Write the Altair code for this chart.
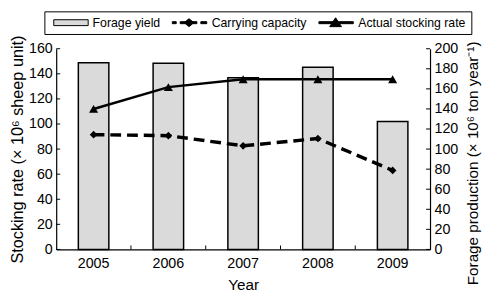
import altair as alt
import pandas as pd

# ---- data ----
years = ["2005", "2006", "2007", "2008", "2009"]
forage_yield = [186, 185.5, 171, 181.5, 127.5]          # right axis (x10^6 ton/yr)
carrying_capacity = [91.5, 90.7, 82.6, 88.4, 63]         # left axis (x10^6 sheep unit)
actual_stocking = [112, 129.4, 135.7, 135.7, 135.7]      # left axis
left_ticks = [0, 20, 40, 60, 80, 100, 120, 140, 160]
right_ticks = [0, 20, 40, 60, 80, 100, 120, 140, 160, 180, 200]
series_names = ["Forage yield", "Carrying capacity", "Actual stocking rate"]

FONT = "Liberation Sans"
W, H = 380, 204

df = pd.DataFrame({
    "year": years,
    "forage": forage_yield,
    "carrying": carrying_capacity,
    "actual": actual_stocking,
})

x_scale = alt.Scale(paddingInner=0, paddingOuter=0)
x_axis = alt.Axis(title="Year", labelAngle=0, ticks=False, tickSize=0, labelPadding=7,
                  titlePadding=8, labelFontSize=14.5, titleFontSize=15.5,
                  domainColor="black", domainWidth=1.2, grid=False)

left_scale = alt.Scale(domain=[0, 160], nice=False)
left_axis = alt.Axis(orient="left", title="Stocking rate (× 10⁶ sheep unit)", values=left_ticks,
                     ticks=False, tickSize=0, labelPadding=4, titlePadding=3,
                     labelFontSize=14.5, titleFontSize=16.5, domainColor="black",
                     domainWidth=1.2, grid=False)

right_scale = alt.Scale(domain=[0, 200], nice=False)
right_axis = alt.Axis(orient="right", title="Forage production (× 10⁶ ton year⁻¹)",
                      values=right_ticks, ticks=False, tickSize=0, labelPadding=4,
                      titlePadding=8, titleAngle=270, titleBaseline="top", titleAlign="center",
                      titleY=116, labelFontSize=14.5, titleFontSize=15.5, domainColor="black",
                      domainWidth=1.2, grid=False)

x_enc = alt.X("year:O", scale=x_scale, axis=x_axis)

# ---- right-axis group: bars + inward ticks ----
bars = alt.Chart(df).mark_bar(width=31, fill="#dadada", stroke="#000000", strokeWidth=1.5,
                              strokeOpacity=1).encode(
    x=x_enc,
    y=alt.Y("forage:Q", scale=right_scale, axis=right_axis),
)
right_tick_marks = alt.Chart(pd.DataFrame({"v": right_ticks})).mark_rule(color="black", strokeWidth=1).encode(
    y=alt.Y("v:Q", scale=right_scale, axis=right_axis),
    x=alt.value(W), x2=alt.value(W - 4),
)
right_group = alt.layer(bars, right_tick_marks)

# ---- left-axis group: lines, markers, ticks, legend ----
base = alt.Chart(df)
carry_line = base.mark_line(color="black", strokeWidth=3.5, strokeDash=[11, 6]).encode(
    x=x_enc, y=alt.Y("carrying:Q", scale=left_scale, axis=left_axis))
carry_pts = base.mark_point(shape="diamond", filled=True, color="black", size=60, opacity=1).encode(
    x=x_enc, y=alt.Y("carrying:Q", scale=left_scale, axis=left_axis))
actual_line = base.mark_line(color="black", strokeWidth=2.5).encode(
    x=x_enc, y=alt.Y("actual:Q", scale=left_scale, axis=left_axis))
actual_pts = base.mark_point(shape="triangle-up", filled=True, color="black", size=85, opacity=1).encode(
    x=x_enc, y=alt.Y("actual:Q", scale=left_scale, axis=left_axis))

left_tick_marks = alt.Chart(pd.DataFrame({"v": left_ticks})).mark_rule(color="black", strokeWidth=1).encode(
    y=alt.Y("v:Q", scale=left_scale, axis=left_axis),
    x=alt.value(0), x2=alt.value(4),
)
bottom_tick_marks = alt.Chart(pd.DataFrame({"year": years[1:]})).mark_rule(color="black", strokeWidth=1).encode(
    x=alt.X("year:O", bandPosition=0, scale=x_scale, axis=x_axis),
    y=alt.value(H), y2=alt.value(H - 4),
)

glyph_forage = "M-0.33,-0.5H5.5V0.5H-0.33Z"
glyph_carry = ("M-0.41,-0.17H0.25V0.17H-0.41Z M0.92,-0.17H1.77V0.17H0.92Z "
               "M1.59,0L2.42,-0.67L3.25,0L2.42,0.67Z M3.07,-0.17H3.75V0.17H3.07Z "
               "M4.42,-0.17H5.42V0.17H4.42Z")
glyph_actual = "M-0.41,-0.17H5.42V0.17H-0.41Z M1.42,0.67L2.42,-0.83L3.42,0.67Z"

legend = alt.Legend(title=None, orient="none", legendX=-12, legendY=-38, direction="horizontal",
                    columns=3, columnPadding=8, padding=5, strokeColor="black",
                    symbolSize=144, symbolStrokeColor="black", symbolStrokeWidth=1,
                    labelFontSize=12.5, labelOffset=31, labelColor="black", labelFont=FONT)

legend_layer = alt.Chart(pd.DataFrame({"series": series_names})).transform_filter("false").mark_point(
    filled=True, strokeWidth=1, opacity=1
).encode(
    shape=alt.Shape("series:N", scale=alt.Scale(domain=series_names,
                                                range=[glyph_forage, glyph_carry, glyph_actual]),
                    legend=legend),
    fill=alt.Fill("series:N", scale=alt.Scale(domain=series_names,
                                              range=["#dadada", "black", "black"]),
                  legend=legend),
    stroke=alt.Stroke("series:N", scale=alt.Scale(domain=series_names,
                                                  range=["black", "black", "black"]),
                      legend=legend),
)

left_group = alt.layer(carry_line, carry_pts, actual_line, actual_pts,
                       left_tick_marks, bottom_tick_marks, legend_layer)

chart = alt.layer(right_group, left_group).resolve_scale(y="independent").properties(
    width=W, height=H,
    autosize=alt.AutoSizeParams(type="none"),
    padding={"left": 49, "top": 39, "right": 63, "bottom": 49},
).configure(font=FONT).configure_view(strokeWidth=0).configure_axis(
    labelColor="black", titleColor="black", titleFontWeight="normal", labelFont=FONT, titleFont=FONT
)

chart.save("out.html", embed_options={"renderer": "svg", "actions": False})
